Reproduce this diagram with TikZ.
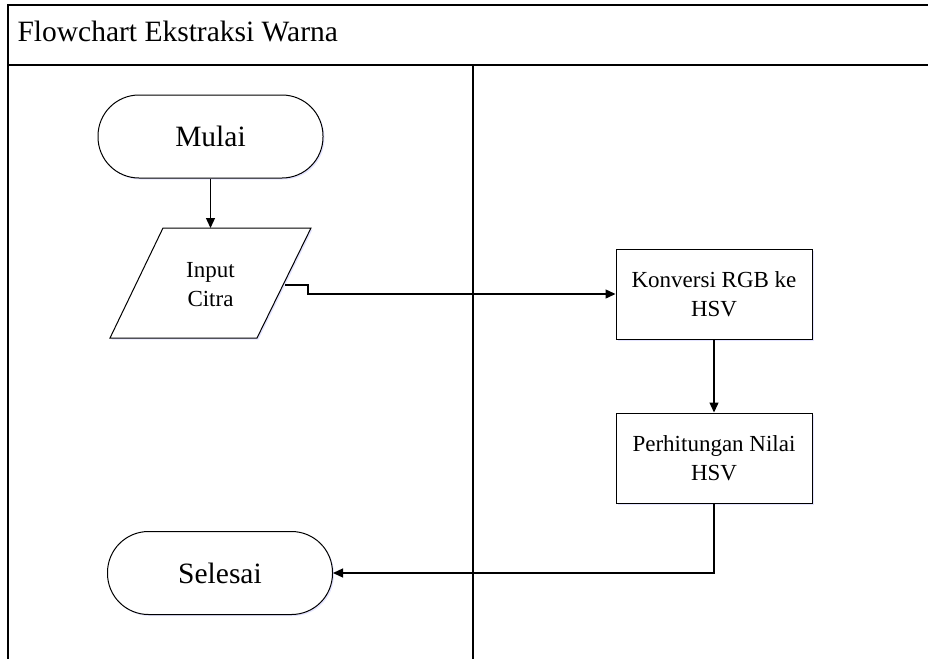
\documentclass[tikz,border=0pt]{standalone}
\usepackage{fontspec}
\setmainfont{Liberation Serif}
\usetikzlibrary{arrows.meta,shadows}
\begin{document}
\begin{tikzpicture}[x=1pt,y=-1pt,
  frame/.style={line width=1.4pt},
  soft/.style={drop shadow={shadow xshift=1.5pt, shadow yshift=-1.5pt, fill=blue!35!white, opacity=0.3}},
  terminal/.style={draw, line width=1pt, fill=white, soft, rounded corners=41pt,
    minimum width=225pt, minimum height=83pt, inner sep=0pt,
    font=\fontsize{29.5}{34}\selectfont},
  process/.style={draw, line width=1pt, fill=white, soft, minimum width=196pt,
    minimum height=90pt, inner sep=0pt, align=center,
    font=\fontsize{23}{29}\selectfont},
  ioshape/.style={draw, line width=1pt, fill=white, soft},
  label/.style={align=center, font=\fontsize{23}{29}\selectfont},
  flow/.style={line width=1.3pt, -{Triangle[length=10pt,width=9pt]}}
]
\useasboundingbox (0,0) rectangle (928,659);

% swimlane frame
\draw[frame] (928,5) -- (8,5) -- (8,659);
\draw[frame] (8,65) -- (928,65);
\draw[frame] (473,65) -- (473,659);
\node[anchor=west, font=\fontsize{29.5}{34}\selectfont] (title) at (14,31) {Flowchart Ekstraksi Warna};

% left lane
\node[terminal] (mulai) at (210.5,136.5) {Mulai};
\path[ioshape] (163,228) -- (311,228) -- (257,338) -- (110,338) -- cycle;
\node[label] (input) at (210.5,285) {Input\\Citra};
\coordinate (inTop) at (210.5,228);
\coordinate (inR) at (285,285);
\node[terminal] (selesai) at (220,573) {Selesai};

% right lane
\node[process] (konv) at (714,294) {Konversi RGB ke\\HSV};
\node[process] (hitung) at (714,458) {Perhitungan Nilai\\HSV};

% connectors
\draw[flow] (mulai.south) -- (inTop);
\draw[flow] (inR) -- ++(23,0) |- (konv.west);
\draw[flow] (konv.south) -- (hitung.north);
\draw[flow] (hitung.south) |- (selesai.east);
\end{tikzpicture}
\end{document}
